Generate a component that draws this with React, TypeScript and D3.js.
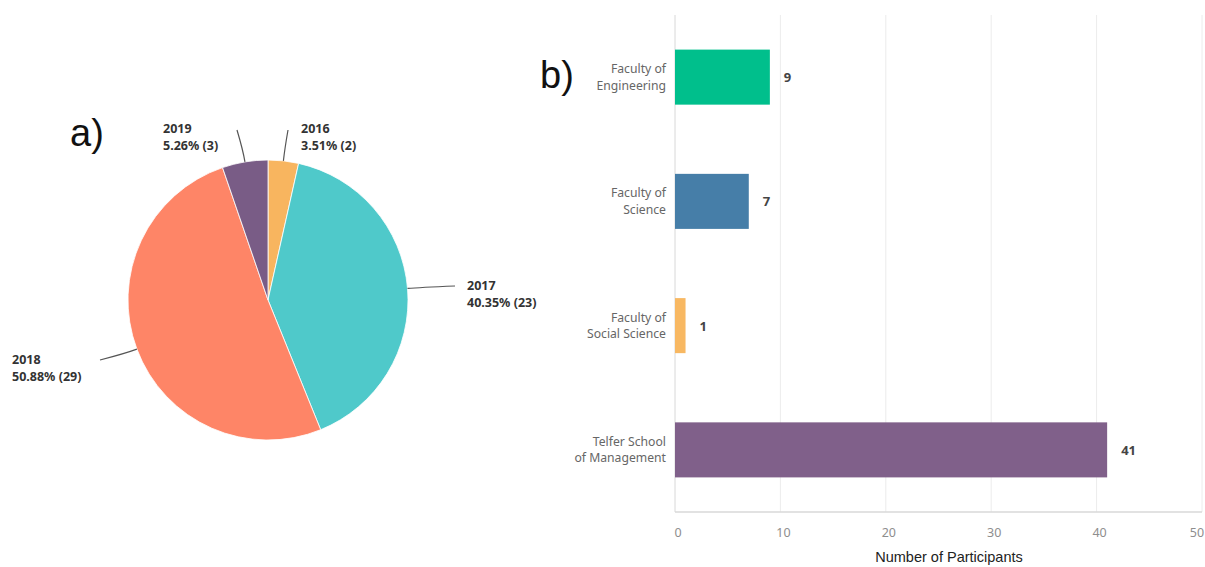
import React from "react";
import * as d3 from "d3";

// ---- data ----
const pieYears: string[] = ["2016", "2017", "2018", "2019"];
const pieCounts: number[] = [2, 23, 29, 3];
const piePercents: string[] = ["3.51%", "40.35%", "50.88%", "5.26%"];
const pieColors: string[] = ["#f8b55f", "#4fc9ca", "#fe8567", "#795c86"];

const faculties: string[][] = [
  ["Faculty of", "Engineering"],
  ["Faculty of", "Science"],
  ["Faculty of", "Social Science"],
  ["Telfer School", "of Management"],
];
const participants: number[] = [9, 7, 1, 41];
const barColors: string[] = ["#00bf8c", "#467ea8", "#f8b862", "#80608a"];
const xTicks: number[] = [0, 10, 20, 30, 40, 50];

// ---- layout ----
const W = 1205;
const H = 567;
const cx = 268;
const cy = 300;
const R = 140;
const labelLayout = [
  { end: [288, 130], tx: 301, ty: 133 },
  { end: [455, 286], tx: 467, ty: 290 },
  { end: [100, 360], tx: 12, ty: 364 },
  { end: [237, 130], tx: 163, ty: 133 },
];

const barLeft = 675;
const barRight = 1202;
const barTop = 15;
const barBottom = 512;

export default function App() {
  const pie = d3
    .pie<number>()
    .sort(null)
    .value((d) => d)(pieCounts);
  const arc = d3.arc<d3.PieArcDatum<number>>().innerRadius(0).outerRadius(R);

  const x = d3.scaleLinear().domain([0, 50]).range([barLeft, barRight]);
  const y = d3
    .scaleBand<number>()
    .domain(d3.range(faculties.length))
    .range([barTop, barBottom])
    .paddingInner(0.557)
    .paddingOuter(0.2785);

  const pieFont = "'Noto Sans', 'Open Sans', sans-serif";
  const barFont = "'Noto Sans', 'Open Sans', sans-serif";

  return (
    <svg
      width={W}
      height={H}
      style={{ position: "absolute", left: 0, top: 0, background: "#fff" }}
    >
      <text x={70} y={146} fontSize={38} fontFamily="'Liberation Sans', Arial, sans-serif" fill="#111">
        a)
      </text>
      <text x={540} y={88} fontSize={38} fontFamily="'Liberation Sans', Arial, sans-serif" fill="#111">
        b)
      </text>

      <g transform={`translate(${cx},${cy})`}>
        {pie.map((p, i) => (
          <path key={i} d={arc(p) || ""} fill={pieColors[i]} stroke="#fff" strokeWidth={0.8} />
        ))}
      </g>
      {pie.map((p, i) => {
        const mid = (p.startAngle + p.endAngle) / 2;
        const sx = cx + R * Math.sin(mid);
        const sy = cy - R * Math.cos(mid);
        const mx = cx + (R + 12) * Math.sin(mid);
        const my = cy - (R + 12) * Math.cos(mid);
        const L = labelLayout[i];
        return (
          <g key={i}>
            <path
              d={`M${sx},${sy} Q${mx},${my} ${L.end[0]},${L.end[1]}`}
              fill="none"
              stroke="#555"
              strokeWidth={1.2}
            />
            <text x={L.tx} y={L.ty} fontFamily={pieFont} fontWeight={700} fontSize={12.5} fill="#333">
              {pieYears[i]}
            </text>
            <text x={L.tx} y={L.ty + 17} fontFamily={pieFont} fontWeight={700} fontSize={12.5} fill="#333">
              {`${piePercents[i]} (${pieCounts[i]})`}
            </text>
          </g>
        );
      })}

      {xTicks.map((t) => (
        <line
          key={t}
          x1={x(t)}
          x2={x(t)}
          y1={barTop}
          y2={barBottom}
          stroke={t === 0 ? "#d8d8d8" : "#ececec"}
          strokeWidth={1}
        />
      ))}
      <line x1={barLeft} x2={barRight} y1={barBottom} y2={barBottom} stroke="#d8d8d8" strokeWidth={1.5} />
      {xTicks.map((t) => (
        <text
          key={t}
          x={x(t) + (t === 50 ? -5 : 3)}
          y={barBottom + 25}
          textAnchor="middle"
          fontFamily={barFont}
          fontSize={12.5}
          fill="#8e8e8e"
        >
          {t}
        </text>
      ))}
      <text x={949} y={562} textAnchor="middle" fontFamily="'Liberation Sans', Arial, sans-serif" fontSize={14.5} fill="#222">
        Number of Participants
      </text>

      {participants.map((v, i) => {
        const y0 = y(i)!;
        const bh = y.bandwidth();
        return (
          <g key={i}>
            <rect x={x(0)} y={y0} width={x(v) - x(0)} height={bh} fill={barColors[i]} />
            <text
              x={x(v) + 14}
              y={y0 + bh / 2 + 5}
              fontFamily={barFont}
              fontWeight={700}
              fontSize={13}
              fill="#444"
            >
              {v}
            </text>
            {faculties[i].map((line, j) => (
              <text
                key={j}
                x={666}
                y={y0 + bh / 2 - 4 + j * 16.6}
                textAnchor="end"
                fontFamily={barFont}
                fontSize={12.2}
                fill="#666"
              >
                {line}
              </text>
            ))}
          </g>
        );
      })}
    </svg>
  );
}
